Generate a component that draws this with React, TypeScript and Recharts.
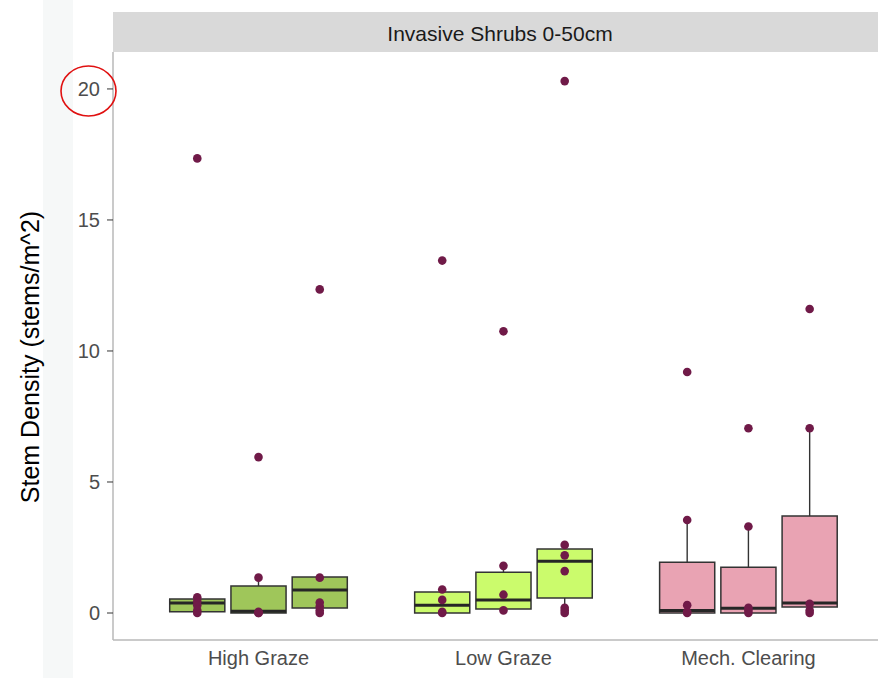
import React from 'react';
import { ComposedChart, XAxis, YAxis, Scatter, ReferenceArea, ReferenceLine } from 'recharts';

const categories = ['High Graze', 'Low Graze', 'Mech. Clearing'];
const groupFills = ['#9fc65a', '#cbfb6c', '#e9a3b3'];

// per category, three dodged boxes
const lowerWhisker = [[0, 0, 0], [0, 0.1, 0], [0, 0, 0]];
const q1 = [[0.05, 0, 0.19], [0, 0.15, 0.57], [0, 0, 0.23]];
const median = [[0.38, 0.07, 0.88], [0.3, 0.5, 1.98], [0.1, 0.18, 0.38]];
const q3 = [[0.53, 1.03, 1.37], [0.8, 1.56, 2.44], [1.94, 1.75, 3.7]];
const upperWhisker = [[0.6, 1.35, 1.37], [0.9, 1.8, 2.6], [3.55, 3.3, 7.05]];

const highGrazePoints = [
  [0, 0.1, 0.3, 0.45, 0.6, 17.35],
  [0, 0, 0.05, 1.35, 5.95],
  [0, 0.1, 0.25, 0.4, 1.35, 12.35],
];
const lowGrazePoints = [
  [0, 0.05, 0.5, 0.9, 13.45],
  [0.1, 0.7, 1.8, 10.75],
  [0, 0.1, 0.2, 1.6, 2.2, 2.6, 20.3],
];
const mechClearingPoints = [
  [0, 0.05, 0.3, 3.55, 9.2],
  [0, 0.1, 0.2, 3.3, 7.05],
  [0, 0.1, 0.35, 7.05, 11.6],
];
const pointsByCategory = [highGrazePoints, lowGrazePoints, mechClearingPoints];

const yTicks = [0, 5, 10, 15, 20];

const DODGE = 0.25;
const HALF_BOX = 0.1125;
const FONT = '"Liberation Sans", Arial, sans-serif';

const posOf = (c: number, s: number) => c + 1 + (s - 1) * DODGE;

const scatterData: { x: number; y: number }[] = [];
pointsByCategory.forEach((cat, c) =>
  cat.forEach((pts, s) => pts.forEach((y) => scatterData.push({ x: posOf(c, s), y })))
);

export default function App() {
  const boxes: React.ReactNode[] = [];
  categories.forEach((_, c) => {
    for (let s = 0; s < 3; s++) {
      const x = posOf(c, s);
      boxes.push(
        <ReferenceLine
          key={`wl${c}${s}`}
          segment={[{ x, y: lowerWhisker[c][s] }, { x, y: q1[c][s] }]}
          stroke="#333333"
          strokeWidth={1.4}
        />,
        <ReferenceLine
          key={`wu${c}${s}`}
          segment={[{ x, y: q3[c][s] }, { x, y: upperWhisker[c][s] }]}
          stroke="#333333"
          strokeWidth={1.4}
        />,
        <ReferenceArea
          key={`b${c}${s}`}
          x1={x - HALF_BOX}
          x2={x + HALF_BOX}
          y1={q1[c][s]}
          y2={q3[c][s]}
          fill={groupFills[c]}
          fillOpacity={1}
          stroke="#333333"
          strokeWidth={1.5}
        />,
        <ReferenceLine
          key={`m${c}${s}`}
          segment={[{ x: x - HALF_BOX, y: median[c][s] }, { x: x + HALF_BOX, y: median[c][s] }]}
          stroke="#262626"
          strokeWidth={3}
        />
      );
    }
  });

  return (
    <div style={{ position: 'absolute', left: 0, top: 0, width: 878, height: 678, background: '#ffffff', overflow: 'hidden' }}>
      <div style={{ position: 'absolute', left: 43, top: 0, width: 30, height: 678, background: '#f6f8f8' }} />
      <div style={{ position: 'absolute', left: 0, top: 0 }}>
        <ComposedChart width={878} height={678} margin={{ top: 52, right: 0, bottom: 8, left: 0 }}>
          <XAxis
            type="number"
            dataKey="x"
            domain={[0.406, 3.529]}
            ticks={[1, 2, 3]}
            tickFormatter={(v: number) => categories[Math.round(v) - 1]}
            allowDataOverflow
            tickLine={false}
            tickMargin={5}
            axisLine={{ stroke: '#b8b8b8', strokeWidth: 1.5 }}
            tick={{ fill: '#4d4d4d', fontSize: 20, fontFamily: FONT }}
            height={30}
          />
          <YAxis
            type="number"
            dataKey="y"
            domain={[-1.03, 21.41]}
            ticks={yTicks}
            allowDataOverflow
            width={113}
            tickSize={6}
            tickMargin={7}
            tickLine={{ stroke: '#333333' }}
            axisLine={{ stroke: '#b8b8b8', strokeWidth: 1.5 }}
            tick={{ fill: '#4d4d4d', fontSize: 20, fontFamily: FONT }}
          />
          {boxes}
          <Scatter
            data={scatterData}
            isAnimationActive={false}
            shape={(p: any) => <circle cx={p.cx} cy={p.cy} r={4.3} fill="#701a48" />}
          />
        </ComposedChart>
      </div>
      <svg width={878} height={678} style={{ position: 'absolute', left: 0, top: 0, pointerEvents: 'none' }}>
        <rect x={113} y={12} width={765} height={40} fill="#d9d9d9" />
        <text x={500} y={33} textAnchor="middle" dominantBaseline="central" fontSize={21} fill="#1a1a1a" fontFamily={FONT}>
          Invasive Shrubs 0-50cm
        </text>
        <text
          x={30}
          y={357}
          transform="rotate(-90 30 357)"
          textAnchor="middle"
          dominantBaseline="central"
          fontSize={25}
          fill="#000000"
          fontFamily={FONT}
        >
          Stem Density (stems/m^2)
        </text>
        <ellipse cx={88.5} cy={91} rx={27.5} ry={25} fill="none" stroke="#e01010" strokeWidth={1.6} />
      </svg>
    </div>
  );
}
